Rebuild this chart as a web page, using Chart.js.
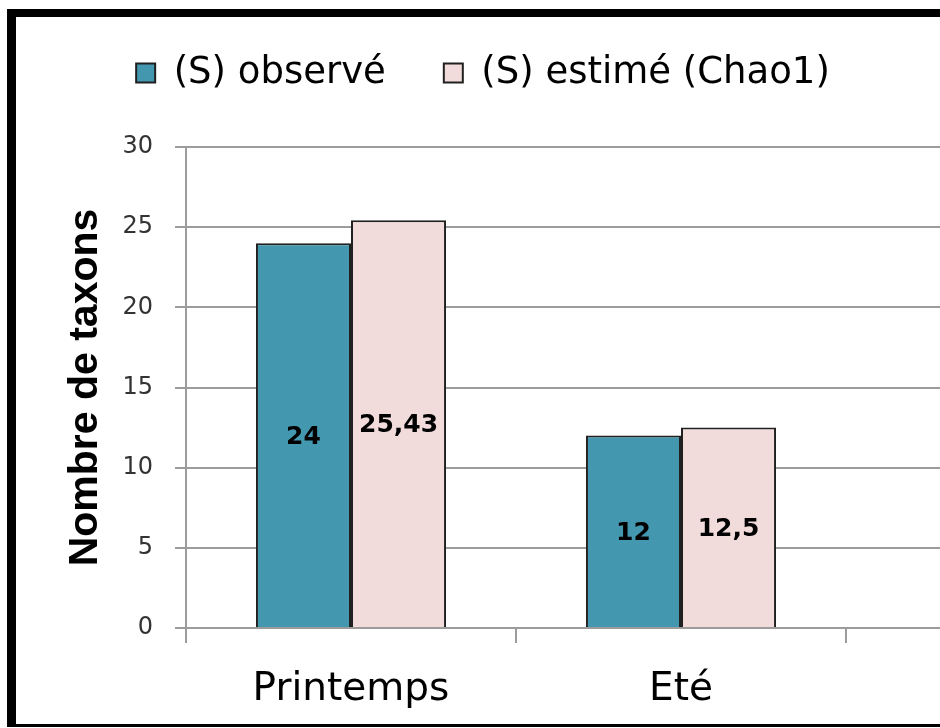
<!DOCTYPE html>
<html>
<head>
<meta charset="utf-8">
<script src="https://cdn.jsdelivr.net/npm/chart.js@4/dist/chart.umd.min.js"></script>
<style>
  html, body { margin: 0; padding: 0; background: #fff; overflow: hidden; width: 940px; height: 728px; }
  #frame {
    position: absolute; left: 7px; top: 9px; width: 1400px; height: 718px;
    box-sizing: border-box;
    border-left: 9px solid #000; border-top: 8px solid #000; border-bottom: 3px solid #000;
  }
  #c { position: absolute; left: 16px; top: 17px; }
</style>
</head>
<body>
<div id="frame"></div>
<canvas id="c" width="1200" height="707"></canvas>
<script>
// Species richness per season
const seasons = ['Printemps', 'Eté', ''];
const observedS = [24, 12, null];
const chao1S = [25.43, 12.5, null];
const yTickValues = [0, 5, 10, 15, 20, 25, 30];

const GRID = '#9c9c9c';

// Decimal comma for the value labels
const fmt = v => String(v).replace('.', ',');

// Writes each bar's value in the middle of the bar
const valueLabels = {
  id: 'valueLabels',
  afterDatasetsDraw(chart) {
    const { ctx } = chart;
    ctx.save();
    ctx.font = 'bold 25px "DejaVu Sans"';
    ctx.fillStyle = '#000';
    ctx.textAlign = 'center';
    ctx.textBaseline = 'middle';
    chart.data.datasets.forEach((ds, i) => {
      chart.getDatasetMeta(i).data.forEach((bar, j) => {
        const v = ds.data[j];
        if (v == null) return;
        const p = bar.getCenterPoint();
        ctx.fillText(fmt(v), p.x, p.y + 2);
      });
    });
    ctx.restore();
  }
};

// Places the legend row at a fixed centre above the plot
const legendPlacement = {
  id: 'legendPlacement',
  afterLayout(chart, args, opts) {
    const lg = chart.legend;
    if (!lg) return;
    const lo = lg.options.labels;
    const fs = lo.font.size;
    const itemH = Math.max(fs, lo.boxHeight || fs);
    const dx = opts.centerX - (lg.left + lg.right) / 2;
    const dy = opts.centerY - (lg.top + lo.padding + itemH / 2);
    lg.left += dx; lg.right += dx;
    lg.top += dy; lg.bottom += dy;
  }
};

new Chart(document.getElementById('c'), {
  type: 'bar',
  data: {
    labels: seasons,
    datasets: [
      {
        label: '(S) observé',
        data: observedS,
        backgroundColor: '#4398b0',
        borderColor: '#202020',
        borderWidth: 2
      },
      {
        label: '(S) estimé (Chao1)',
        data: chao1S,
        backgroundColor: '#f2dcdb',
        borderColor: '#202020',
        borderWidth: 2
      }
    ]
  },
  options: {
    responsive: false,
    animation: false,
    devicePixelRatio: 1,
    datasets: { bar: { categoryPercentage: 0.576, barPercentage: 1.0 } },
    layout: { padding: { top: 25, right: 40, left: 0, bottom: 0 } },
    font: { family: '"DejaVu Sans"' },
    plugins: {
      tooltip: { enabled: false },
      legend: {
        position: 'top',
        labels: {
          font: { family: '"DejaVu Sans"', size: 37 },
          color: '#000',
          boxWidth: 19,
          boxHeight: 19,
          padding: 58
        }
      },
      legendPlacement: { centerX: 467, centerY: 56 }
    },
    scales: {
      x: {
        grid: {
          display: true, drawOnChartArea: false, drawTicks: true,
          tickLength: 15, color: GRID, lineWidth: 2, offset: true
        },
        border: { color: GRID, width: 2 },
        ticks: { color: '#000', font: { family: '"DejaVu Sans"', size: 39 }, padding: 23, maxRotation: 0 },
        afterFit(s) { s.height = 96; }
      },
      y: {
        min: 0, max: 30,
        afterBuildTicks(s) { s.ticks = yTickValues.map(v => ({ value: v })); },
        ticks: { color: '#333', font: { family: '"DejaVu Sans"', size: 24 }, padding: 22 },
        grid: { color: GRID, lineWidth: 2, tickLength: 11 },
        border: { color: GRID, width: 2 },
        title: {
          display: true,
          text: 'Nombre de taxons',
          color: '#000',
          font: { family: '"Liberation Sans"', weight: 'bold', size: 41 },
          padding: { top: 45, bottom: 0 }
        },
        afterFit(s) { s.width = 170; }
      }
    }
  },
  plugins: [valueLabels, legendPlacement]
});
</script>
</body>
</html>
